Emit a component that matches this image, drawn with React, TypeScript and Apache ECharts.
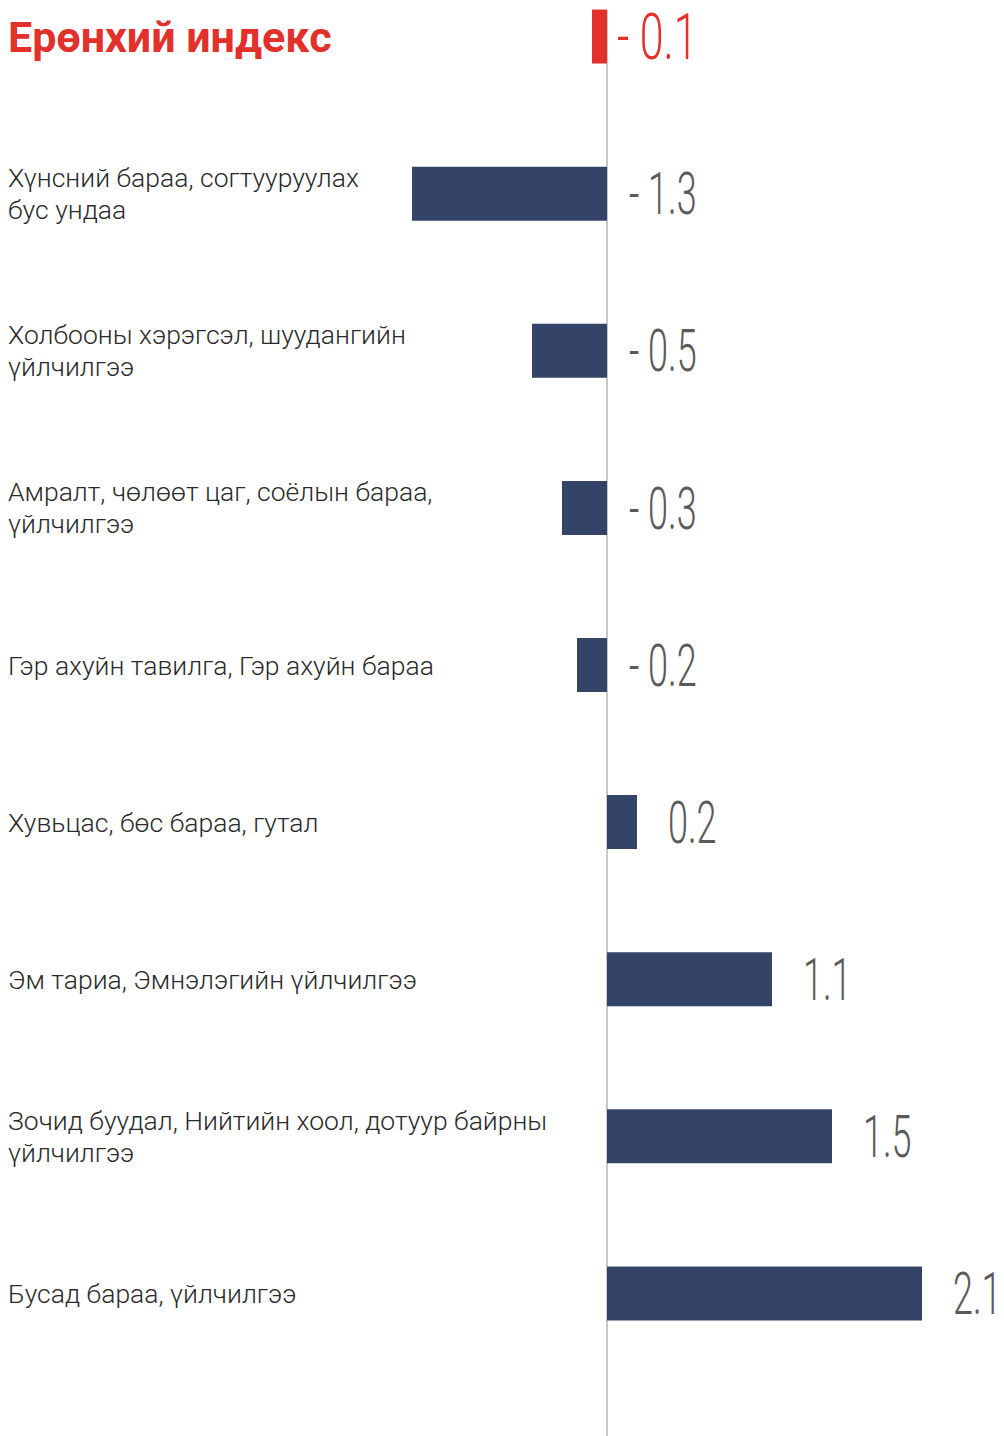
import React, { useEffect, useRef } from "react";
import * as echarts from "echarts";

const categories: string[] = [
  "Ерөнхий индекс",
  "Хүнсний бараа, согтууруулах\nбус ундаа",
  "Холбооны хэрэгсэл, шуудангийн\nүйлчилгээ",
  "Амралт, чөлөөт цаг, соёлын бараа,\nүйлчилгээ",
  "Гэр ахуйн тавилга, Гэр ахуйн бараа",
  "Хувьцас, бөс бараа, гутал",
  "Эм тариа, Эмнэлэгийн үйлчилгээ",
  "Зочид буудал, Нийтийн хоол, дотуур байрны\nүйлчилгээ",
  "Бусад бараа, үйлчилгээ",
];
const values: number[] = [-0.1, -1.3, -0.5, -0.3, -0.2, 0.2, 1.1, 1.5, 2.1];

const RED = "#e2302b";
const NAVY = "#344468";
const GRAY_TEXT = "#5a5a5a";

const OFFSET = 42; // chart div shifted up so the first band sits near the top

const fmt = (v: number) => (v < 0 ? "- " + Math.abs(v).toFixed(1) : v.toFixed(1));

export default function App() {
  const ref = useRef<HTMLDivElement>(null);
  useEffect(() => {
    if (!ref.current) return;
    const chart = echarts.init(ref.current, undefined, { renderer: "svg" });
    const option: any = {
      animation: false,
      grid: { left: 7, right: 7, top: 0, bottom: 64 },
      xAxis: {
        type: "value",
        min: -4,
        max: 2.6,
        show: false,
      },
      yAxis: [
        {
          type: "category",
          data: categories,
          inverse: true,
          position: "left",
          axisLine: { show: false },
          axisTick: { show: false },
          axisLabel: {
            inside: true,
            margin: 1,
            align: "left",
            verticalAlign: "middle",
            fontFamily: "Roboto",
            fontWeight: 300,
            fontSize: 26.5,
            lineHeight: 32,
            color: "#2a2a2a",
            formatter: (val: string, idx: number) =>
              idx === 0 ? "{t|" + val + "}" : val,
            rich: {
              t: {
                fontFamily: "Roboto",
                fontWeight: "bold",
                fontSize: 43,
                color: RED,
              },
            },
          },
        },
      ],
      series: [
        {
          type: "bar",
          data: values.map((v, i) => ({
            value: v,
            itemStyle: { color: i === 0 ? RED : NAVY },
          })),
          barWidth: 54,
        },
        {
          type: "custom",
          data: values.map((v, i) => [v, i]),
          renderItem: (params: any, api: any) => {
            const v = api.value(0);
            const idx = api.value(1);
            const end = api.coord([v, idx]);
            const zero = api.coord([0, idx]);
            const x = v < 0 ? zero[0] + (idx === 0 ? 10 : 22) : end[0] + 31;
            return {
              type: "text",
              x: x,
              y: end[1],
              scaleX: idx === 0 ? 0.67 : 0.6,
              style: {
                text: fmt(v),
                fontFamily: "Roboto",
                fontWeight: 300,
                fontSize: idx === 0 ? 64 : 60,
                fill: idx === 0 ? RED : GRAY_TEXT,
                align: "left",
                verticalAlign: "middle",
              },
            };
          },
          z: 5,
        },
      ],
    };
    chart.setOption(option);
    const x0 = chart.convertToPixel({ xAxisIndex: 0 }, 0) as number;
    chart.setOption({
      graphic: [
        {
          type: "line",
          shape: { x1: x0, y1: OFFSET + 10, x2: x0, y2: OFFSET + 1436 },
          style: { stroke: "#b4b4b4", lineWidth: 1.5 },
          z: 0,
          silent: true,
        },
      ],
    });
    return () => chart.dispose();
  }, []);
  return (
    <div
      ref={ref}
      style={{
        position: "absolute",
        left: 0,
        top: -OFFSET,
        width: 1004,
        height: 1436 + OFFSET,
      }}
    />
  );
}
